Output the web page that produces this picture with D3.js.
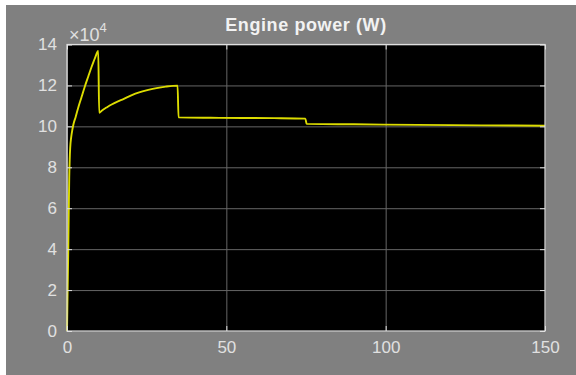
<!DOCTYPE html>
<html>
<head>
<meta charset="utf-8">
<script src="https://cdn.jsdelivr.net/npm/d3@7"></script>
<style>
  html, body { margin: 0; padding: 0; background: #ffffff; }
  svg { display: block; }
  text { font-family: "Liberation Sans", Arial, Helvetica, sans-serif; }
</style>
</head>
<body>
<svg id="chart" width="576" height="375"></svg>
<script>
// Engine power trace, time in seconds, power in units of 1e4 W
const timeS = [0, 0.2, 0.4, 0.55, 0.7, 0.85, 1.0, 1.3, 1.7, 2.1, 2.7, 3.5, 4.5, 5.6, 6.7, 7.7, 8.8, 9.8,
               10.1, 11, 12.4, 14, 16, 17.7, 20, 22.9, 25.5, 28.1, 31, 34.7,
               35.0, 45, 55, 65, 74.8, 75.2, 90, 110, 130, 150];
const powerE4 = [0, 2.0, 4.0, 5.8, 7.5, 8.4, 8.95, 9.45, 9.85, 10.15, 10.45, 10.9, 11.4, 11.95, 12.45, 12.9, 13.35, 13.68,
                 10.66, 10.78, 10.92, 11.07, 11.22, 11.33, 11.5, 11.67, 11.78, 11.87, 11.94, 11.99,
                 10.44, 10.42, 10.41, 10.4, 10.38, 10.12, 10.1, 10.07, 10.05, 10.03];
const xTicks = [0, 50, 100, 150];
const yTicks = [0, 2, 4, 6, 8, 10, 12, 14];
const titleText = "Engine power (W)";

const svg = d3.select("#chart");
const W = 576, H = 375;
const plot = { left: 67, right: 545, top: 44.5, bottom: 331 };
const pw = plot.right - plot.left, ph = plot.bottom - plot.top;

// figure background
svg.append("rect").attr("x", 6).attr("y", 5).attr("width", W - 6).attr("height", H - 5)
  .attr("fill", "#808080");

const x = d3.scaleLinear().domain([0, 150]).range([0, pw]);
const y = d3.scaleLinear().domain([0, 14]).range([ph, 0]);

const g = svg.append("g").attr("transform", `translate(${plot.left},${plot.top})`);

// axes area
g.append("rect").attr("width", pw).attr("height", ph).attr("fill", "#000000");

// grid
const gridColor = "#666666";
g.append("g").attr("class", "grid-x")
  .attr("transform", `translate(0,${ph})`)
  .call(d3.axisBottom(x).tickValues(xTicks).tickSize(-ph).tickFormat(""))
  .call(s => s.select(".domain").remove())
  .call(s => s.selectAll("line").attr("stroke", gridColor).attr("stroke-width", 1));
g.append("g").attr("class", "grid-y")
  .call(d3.axisLeft(y).tickValues(yTicks).tickSize(-pw).tickFormat(""))
  .call(s => s.select(".domain").remove())
  .call(s => s.selectAll("line").attr("stroke", gridColor).attr("stroke-width", 1));

// signal line
const line = d3.line().curve(d3.curveMonotoneX).x((d, i) => x(timeS[i])).y(d => y(d));
g.append("path").datum(powerE4)
  .attr("d", line)
  .attr("fill", "none")
  .attr("stroke", "#dcdc00")
  .attr("stroke-width", 1.9)
  .attr("stroke-linejoin", "round");

// axes with inward ticks
const axisColor = "#e0e0e0";
const labelColor = "#e0e0e0";
function styleAxis(s, showLabels) {
  s.select(".domain").remove();
  s.selectAll("line").attr("stroke", axisColor).attr("stroke-width", 1);
  s.selectAll("text").attr("fill", labelColor).style("font-size", "17px")
    .style("font-family", "'Liberation Sans', Arial, sans-serif");
  if (!showLabels) s.selectAll("text").remove();
}
g.append("g").attr("transform", `translate(0,${ph})`)
  .call(d3.axisBottom(x).tickValues(xTicks).tickSize(-5).tickPadding(10).tickFormat(d3.format("d")))
  .call(s => styleAxis(s, true));
g.append("g")
  .call(d3.axisTop(x).tickValues(xTicks).tickSize(-5))
  .call(s => styleAxis(s, false));
g.append("g")
  .call(d3.axisLeft(y).tickValues(yTicks).tickSize(-5).tickPadding(10).tickFormat(d3.format("d")))
  .call(s => styleAxis(s, true));
g.append("g").attr("transform", `translate(${pw},0)`)
  .call(d3.axisRight(y).tickValues(yTicks).tickSize(-5))
  .call(s => styleAxis(s, false));

// axes frame
g.append("rect").attr("width", pw).attr("height", ph)
  .attr("fill", "none").attr("stroke", axisColor).attr("stroke-width", 1.2);

// exponent label
const expo = svg.append("text").attr("x", 69).attr("y", 41)
  .attr("fill", labelColor).style("font-size", "18px");
expo.append("tspan").text("\u00d710");
expo.append("tspan").attr("dy", -9).style("font-size", "13px").text("4");

// title
svg.append("text")
  .attr("x", plot.left + pw / 2).attr("y", 31)
  .attr("text-anchor", "middle")
  .attr("fill", "#f2f2f2")
  .style("font-size", "18px").style("font-weight", "bold")
  .style("letter-spacing", "0.6px")
  .text(titleText);
</script>
</body>
</html>
